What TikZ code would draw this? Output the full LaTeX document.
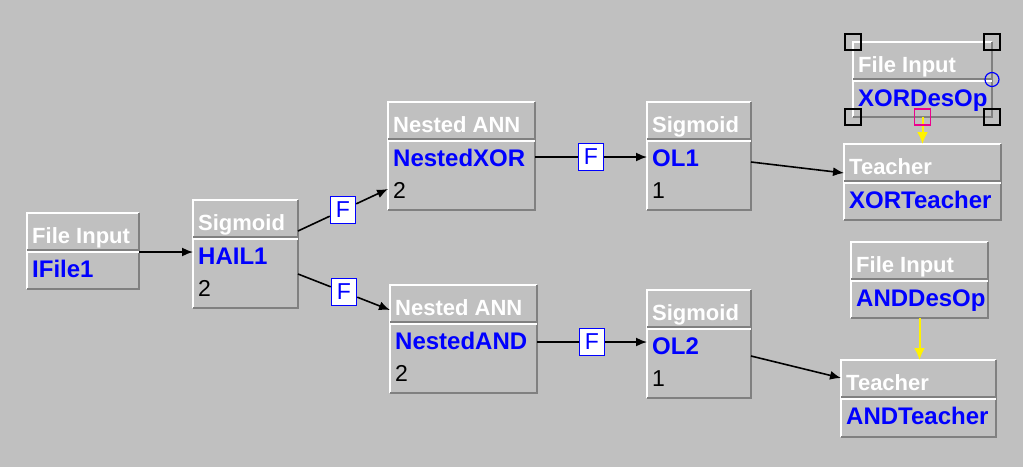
\documentclass[tikz,border=0pt]{standalone}
\usepackage{fontspec}
\setmainfont{Liberation Sans}
\usepackage{xcolor}
\usepackage{tikz}
\usetikzlibrary{calc}
\usetikzlibrary{positioning}
\usetikzlibrary{arrows.meta}

\definecolor{panel}{HTML}{C0C0C0}
\definecolor{darkedge}{HTML}{808080}

\tikzset{
	annbox/.style={anchor=north west, inner sep=0pt, outer sep=0pt},
	boxtitle/.style={anchor=base west, inner sep=0pt, text=white, font=\fontsize{22}{22}\selectfont\bfseries},
	boxname/.style={anchor=base west, inner sep=0pt, text=blue, font=\fontsize{24}{24}\selectfont\bfseries},
	boxnum/.style={anchor=base west, inner sep=0pt, text=black, font=\fontsize{23}{23}\selectfont},
	fbox/.style={draw=blue, fill=white, line width=1.5pt, minimum width=25pt, minimum height=27pt, inner sep=0pt, text=blue, font=\fontsize{23}{23}\selectfont},
	conn/.style={draw=black, line width=1.6pt, -{Latex[length=11pt,width=9pt]}},
	feed/.style={draw=yellow, line width=2pt, -{Latex[length=12pt,width=11pt]}},
	handle/.style={draw=black, line width=1.4pt, minimum size=16pt, inner sep=0pt}
}

% one component: name, top left, width, height, type, name shown, neurons
\newcommand{\annbox}[7]{%
	\node [annbox, minimum width=#3pt, minimum height=#4pt] (#1) at (#2) {};
	\draw [white, line width=1.5pt] (#1.south west) -- (#1.north west) -- (#1.north east);
	\draw [darkedge, line width=2pt] (#1.north east) -- (#1.south east) -- (#1.south west);
	\draw [darkedge, line width=1.2pt] ($(#1.north west)+(0,37)$) -- ($(#1.north east)+(0,37)$);
	\draw [white, line width=1.2pt] ($(#1.north west)+(0,39)$) -- ($(#1.north east)+(0,39)$);
	\node [boxtitle] (#1-title) at ($(#1.north west)+(5,30)$) {#5};
	\node [boxname] (#1-name) at ($(#1.north west)+(5,64)$) {#6};
	\node [boxnum] (#1-num) at ($(#1.north west)+(5,96)$) {#7};
}

\begin{document}
\begin{tikzpicture}[x=1pt, y=-1pt]

	\path [use as bounding box, fill=panel] (0,0) rectangle (1023,467);

	\annbox{IFile1}{27,213}{112}{76}{File Input}{IFile1}{}
	\annbox{HAIL1}{193,200}{105}{108}{Sigmoid}{HAIL1}{2}
	\annbox{NXOR}{388,102}{147}{108}{Nested ANN}{NestedXOR}{2}
	\annbox{NAND}{390,285}{147}{108}{Nested ANN}{NestedAND}{2}
	\annbox{OL1}{647,102}{104}{108}{Sigmoid}{OL1}{1}
	\annbox{OL2}{647,290}{104}{108}{Sigmoid}{OL2}{1}
	\annbox{XORD}{853,42}{139}{75}{File Input}{XORDesOp}{}
	\annbox{XORT}{844,144}{157}{76}{Teacher}{XORTeacher}{}
	\annbox{ANDD}{851,242}{137}{76}{File Input}{ANDDesOp}{}
	\annbox{ANDT}{841,360}{155}{77}{Teacher}{ANDTeacher}{}

	% synapses
	\coordinate (h1up) at ($(HAIL1.north east)+(0,31)$);
	\coordinate (h1dn) at ($(HAIL1.north east)+(0,74)$);
	\coordinate (nxin) at ($(NXOR.north west)+(0,87)$);
	\coordinate (nain) at ($(NAND.north west)+(0,25)$);
	\coordinate (nxout) at ($(NXOR.north east)+(0,55)$);
	\coordinate (naout) at ($(NAND.north east)+(0,57)$);
	\coordinate (o1in) at ($(OL1.north west)+(0,55)$);
	\coordinate (o2in) at ($(OL2.north west)+(0,52)$);

	\node [fbox] (F1) at ($(h1up)!0.5!(nxin)$) {F};
	\node [fbox] (F2) at ($(h1dn)!0.5!(nain)$) {F};
	\node [fbox] (F3) at ($(nxout)!0.5!(o1in)$) {F};
	\node [fbox] (F4) at ($(naout)!0.5!(o2in)$) {F};

	\draw [conn] ($(IFile1.north east)+(0,39)$) -- ($(HAIL1.north west)+(0,52)$);
	\draw [conn] (h1up) -- (F1) -- (nxin);
	\draw [conn] (h1dn) -- (F2) -- (nain);
	\draw [conn] (nxout) -- (F3) -- (o1in);
	\draw [conn] (naout) -- (F4) -- (o2in);
	\draw [conn] ($(OL1.north east)+(0,60)$) -- ($(XORT.north west)+(0,29)$);
	\draw [conn] ($(OL2.north east)+(0,66)$) -- ($(ANDT.north west)+(0,18)$);

	% desired output to teachers
	\draw [feed] (XORD.south) -- (XORD.south |- XORT.north);
	\draw [feed] (ANDD.south) -- (ANDD.south |- ANDT.north);

	% selection marks
	\foreach \c in {north west, north east, south west, south east}
		\node [handle] at (XORD.\c) {};
	\node [draw=magenta, line width=1.4pt, minimum size=16pt, inner sep=0pt] (XORD-port) at (XORD.south) {};
	\node [draw=blue, circle, line width=1.2pt, minimum size=14pt, inner sep=0pt] (XORD-pin) at (XORD.east) {};

\end{tikzpicture}
\end{document}
